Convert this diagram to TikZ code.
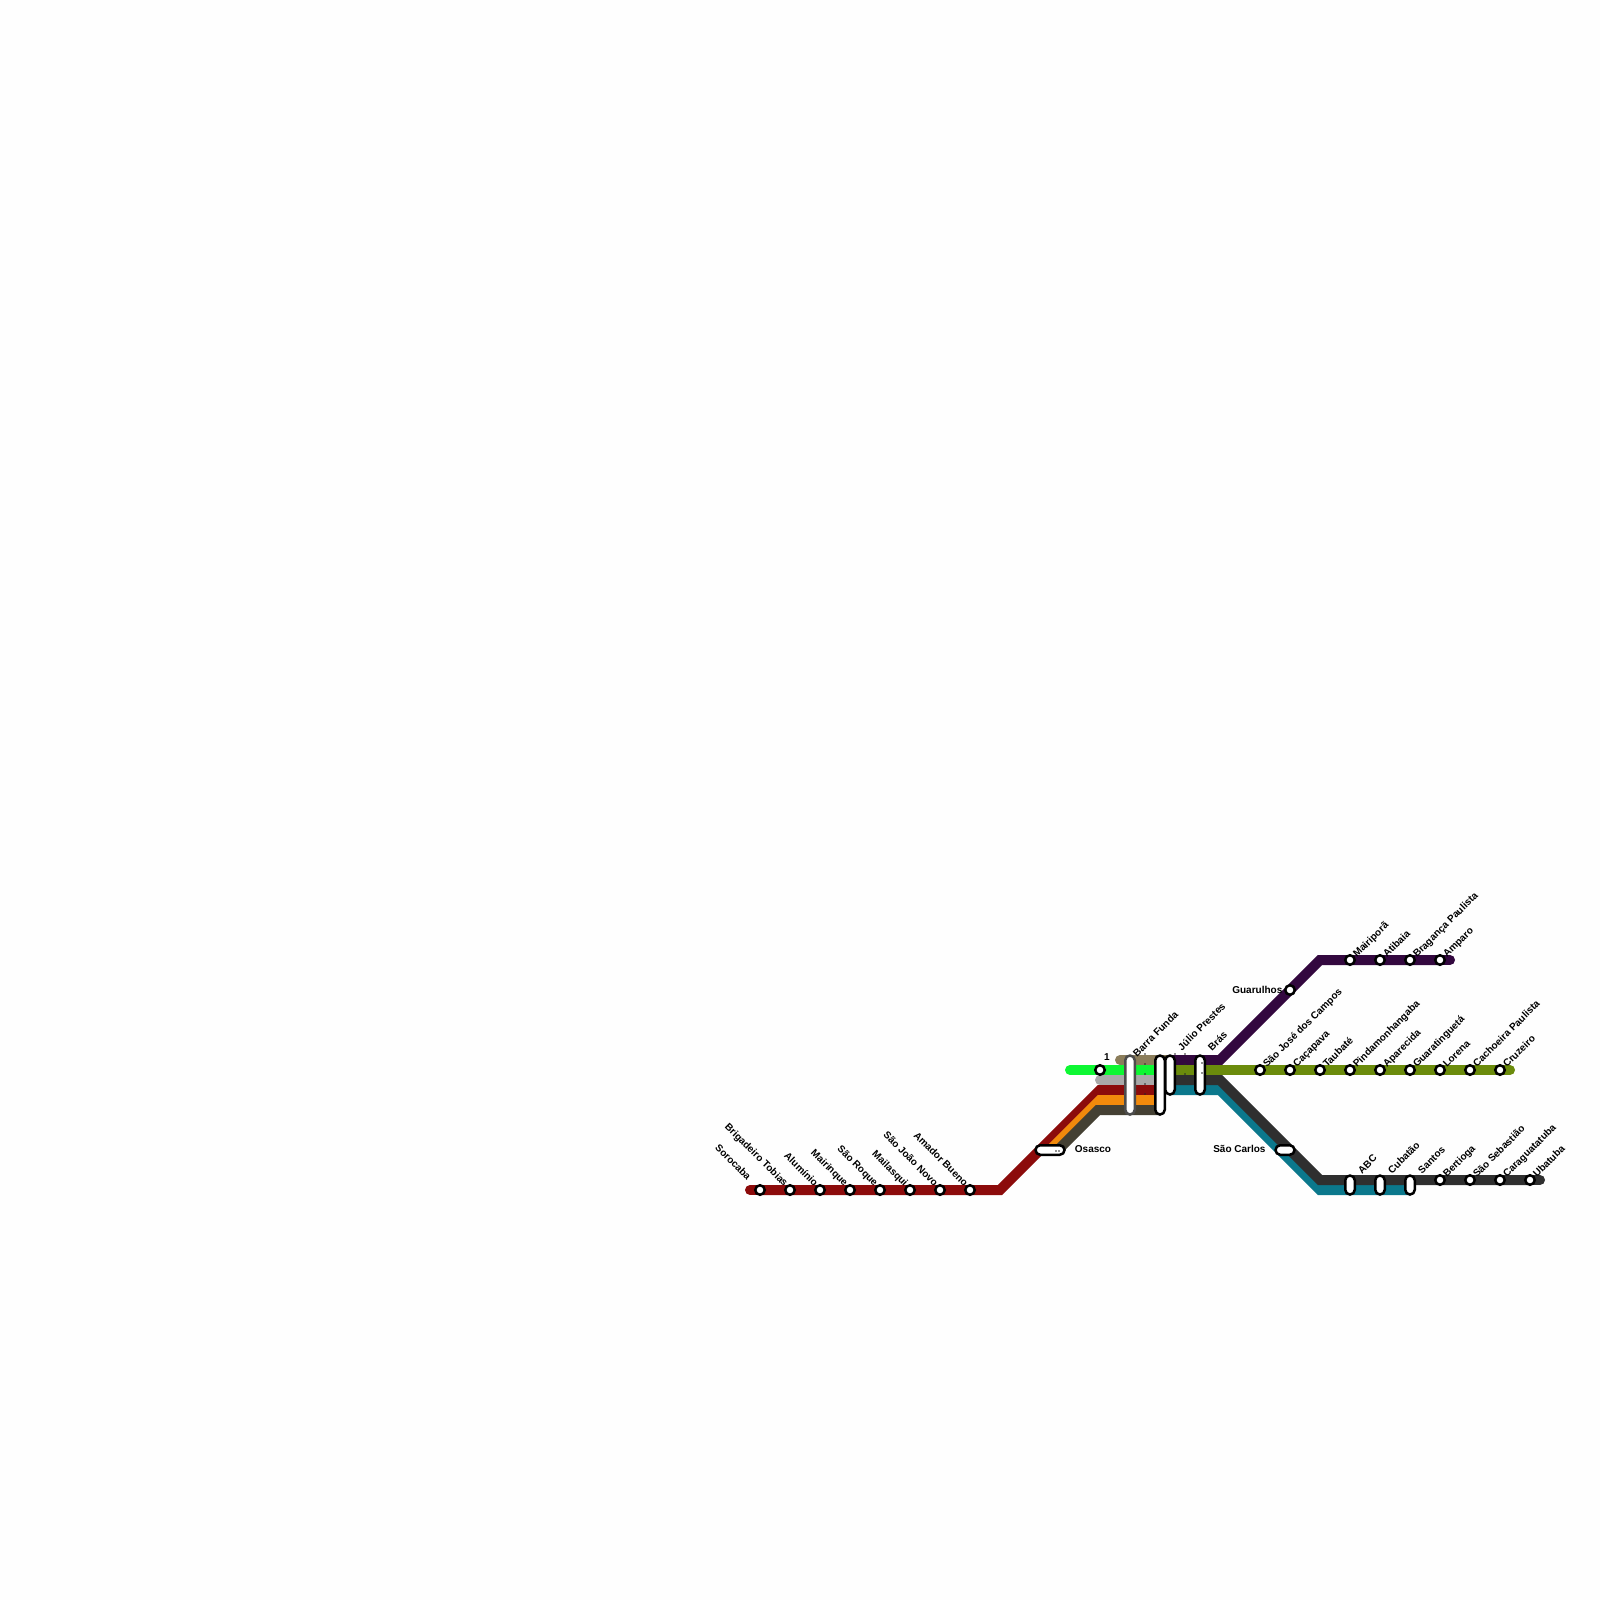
\documentclass[tikz,border=0pt]{standalone}
\usepackage{fontspec}
\setmainfont{Liberation Sans}
\usepackage{xcolor}
\usetikzlibrary{positioning}
\definecolor{lineRed}{HTML}{8C0B0B}
\definecolor{lineOrange}{HTML}{F28A0C}
\definecolor{lineUmber}{HTML}{444033}
\definecolor{lineGrey}{HTML}{A9A9A9}
\definecolor{lineGreen}{HTML}{0EF733}
\definecolor{lineTan}{HTML}{8B7D5B}
\definecolor{linePurple}{HTML}{33083F}
\definecolor{lineOlive}{HTML}{6B8B0C}
\definecolor{lineCoal}{HTML}{2F2F2F}
\definecolor{lineTeal}{HTML}{0B788C}
\begin{document}
\begin{tikzpicture}[
        x=1pt, y=-1pt,
        route/.style = {line width=10pt},
        roundend/.style = {route, line cap=round},
        station/.style = {circle, draw=black, fill=white, line width=2.5pt, minimum size=9.5pt, inner sep=0pt},
        hub/.style = {draw=black, fill=white, line width=2.5pt, rounded corners=4.7pt, inner sep=0pt},
        tag/.style = {font=\fontsize{10}{12}\selectfont\bfseries, inner sep=0pt},
        tagright/.style = {tag, anchor=base west, xshift=7pt, yshift=2pt, rotate=45},
        hubtag/.style = {tag, anchor=base west, xshift=12pt, yshift=0pt, rotate=45},
        tagleft/.style = {tag, anchor=base east, xshift=-6pt, yshift=3pt, rotate=-45},
        speck/.style = {black!85}
    ]
    \useasboundingbox (0,0) rectangle (1600,1600);
    \fill[white!99.5!black] (0,0) rectangle (1600,1600);

    \coordinate (redstart) at (750,1190);
    \coordinate (redbend) at (1000,1190);
    \coordinate (redtop) at (1100,1090);
    \coordinate (redend) at (1160,1090);
    \coordinate (orangestart) at (1050,1150);
    \coordinate (orangetop) at (1100,1100);
    \coordinate (orangeend) at (1160,1100);
    \coordinate (umberstart) at (1058,1150);
    \coordinate (umbertop) at (1098,1110);
    \coordinate (umberend) at (1160,1110);
    \coordinate (greystart) at (1100,1080);
    \coordinate (greyend) at (1160,1080);
    \coordinate (greenstart) at (1070,1070);
    \coordinate (greenend) at (1160,1070);
    \coordinate (tanstart) at (1120,1060);
    \coordinate (tanend) at (1170,1060);
    \coordinate (purplestart) at (1170,1060);
    \coordinate (purplebend) at (1220,1060);
    \coordinate (purpletop) at (1320,960);
    \coordinate (purpleend) at (1450,960);
    \coordinate (olivestart) at (1170,1070);
    \coordinate (oliveend) at (1510,1070);
    \coordinate (coalstart) at (1170,1080);
    \coordinate (coalbend) at (1220,1080);
    \coordinate (coalbottom) at (1320,1180);
    \coordinate (coalend) at (1540,1180);
    \coordinate (tealstart) at (1170,1090);
    \coordinate (tealbend) at (1220,1090);
    \coordinate (tealbottom) at (1320,1190);
    \coordinate (tealend) at (1410,1190);

    \draw[route, lineTeal] (tealstart) -- (tealbend) -- (tealbottom) -- (tealend);
    \draw[route, lineCoal] (coalstart) -- (coalbend) -- (coalbottom) -- (1530,1180);
    \draw[roundend, lineCoal] (1530,1180) -- (coalend);
    \draw[route, linePurple] (purplestart) -- (purplebend) -- (purpletop) -- (1440,960);
    \draw[roundend, linePurple] (1440,960) -- (purpleend);
    \draw[route, lineOlive] (olivestart) -- (1500,1070);
    \draw[roundend, lineOlive] (1500,1070) -- (oliveend);
    \draw[roundend, lineRed] (redstart) -- (760,1190);
    \draw[route, lineRed] (760,1190) -- (redbend) -- (redtop) -- (redend);
    \draw[route, lineOrange] (orangestart) -- (orangetop) -- (orangeend);
    \draw[route, lineUmber] (umberstart) -- (umbertop) -- (umberend);
    \draw[roundend, lineGrey] (greystart) -- (1110,1080);
    \draw[route, lineGrey] (1110,1080) -- (greyend);
    \draw[roundend, lineGreen] (greenstart) -- (1080,1070);
    \draw[route, lineGreen] (1080,1070) -- (greenend);
    \draw[roundend, lineTan] (tanstart) -- (1135,1060);
    \draw[route, lineTan] (1135,1060) -- (tanend);

    % stations
    \node[station] (sorocaba) at (760,1190) {};
    \node[station] (brigadeiro) at (790,1190) {};
    \node[station] (aluminio) at (820,1190) {};
    \node[station] (mairinque) at (850,1190) {};
    \node[station] (saoroque) at (880,1190) {};
    \node[station] (mailasqui) at (910,1190) {};
    \node[station] (saojoao) at (940,1190) {};
    \node[station] (amador) at (970,1190) {};
    \node[station] (one) at (1100,1070) {};
    \node[station] (guarulhos) at (1290,990) {};
    \node[station] (mairipora) at (1350,960) {};
    \node[station] (atibaia) at (1380,960) {};
    \node[station] (braganca) at (1410,960) {};
    \node[station] (amparo) at (1440,960) {};
    \node[station] (saojose) at (1260,1070) {};
    \node[station] (cacapava) at (1290,1070) {};
    \node[station] (taubate) at (1320,1070) {};
    \node[station] (pinda) at (1350,1070) {};
    \node[station] (aparecida) at (1380,1070) {};
    \node[station] (guara) at (1410,1070) {};
    \node[station] (lorena) at (1440,1070) {};
    \node[station] (cachoeira) at (1470,1070) {};
    \node[station] (cruzeiro) at (1500,1070) {};
    \node[station] (bertioga) at (1440,1180) {};
    \node[station] (saoseb) at (1470,1180) {};
    \node[station] (caragua) at (1500,1180) {};
    \node[station] (ubatuba) at (1530,1180) {};

    % interchanges
    \node[hub, minimum width=29pt, minimum height=9.5pt] (osasco) at (1050,1150) {};
    \node[hub, minimum width=19pt, minimum height=9.5pt] (saocarlos) at (1285,1150) {};
    \node[hub, draw=black!70, minimum width=9.5pt, minimum height=59pt] (barra) at (1130,1085) {};
    \node[hub, minimum width=9.5pt, minimum height=59pt] (julio) at (1160,1085) {};
    \node[hub, minimum width=9.5pt, minimum height=39pt] (juliotwo) at (1170,1075) {};
    \node[hub, minimum width=9.5pt, minimum height=39pt] (bras) at (1200,1075) {};
    \node[hub, minimum width=9.5pt, minimum height=19pt] (abc) at (1350,1185) {};
    \node[hub, minimum width=9.5pt, minimum height=19pt] (cubatao) at (1380,1185) {};
    \node[hub, minimum width=9.5pt, minimum height=19pt] (santos) at (1410,1185) {};

    % tiny marks on the bands and in the pills
    \foreach \ypos in {1054,1064,1074,1084,1094}
        \fill[speck] (1145,\ypos) circle (0.8);
    \foreach \ypos in {1054,1064,1074}
        \fill[speck] (1185,\ypos) circle (0.8);
    \fill[speck] (1175,1054) circle (0.8);
    \fill[speck] (1202,1063) circle (0.8);
    \fill[speck] (1202,1073) circle (0.8);
    \fill[speck] (1056,1151) circle (0.8);
    \fill[speck] (1059,1151) circle (0.8);

    % labels
    \node[xshift=-7pt, yshift=6pt, tagleft] (lblsorocaba) at (sorocaba) {Sorocaba};
    \node[tagleft] (lblbrigadeiro) at (brigadeiro) {Brigadeiro Tobias};
    \node[tagleft] (lblaluminio) at (aluminio) {Alumínio};
    \node[tagleft] (lblmairinque) at (mairinque) {Mairinque};
    \node[tagleft] (lblsaoroque) at (saoroque) {São Roque};
    \node[tagleft] (lblmailasqui) at (mailasqui) {Mailasqui};
    \node[tagleft] (lblsaojoao) at (saojoao) {São João Novo};
    \node[tagleft] (lblamador) at (amador) {Amador Bueno};
    \node[tag, right=9pt of osasco, yshift=1pt] (lblosasco) {Osasco};
    \node[tag] (lblone) at (1107,1057) {1};
    \node[xshift=-5pt, yshift=-3pt, hubtag] (lblbarra) at (barra.north) {Barra Funda};
    \node[yshift=3pt, hubtag] (lbljulio) at (juliotwo.north) {Júlio Prestes};
    \node[yshift=3pt, hubtag] (lblbras) at (bras.north) {Brás};
    \node[tag, left=1.5pt of guarulhos] (lblguarulhos) {Guarulhos};
    \node[tag, left=8.5pt of saocarlos, yshift=1pt] (lblsaocarlos) {São Carlos};
    \node[tagright] (lblmairipora) at (mairipora) {Mairiporã};
    \node[tagright] (lblatibaia) at (atibaia) {Atibaia};
    \node[tagright] (lblbraganca) at (braganca) {Bragança Paulista};
    \node[tagright] (lblamparo) at (amparo) {Amparo};
    \node[tagright] (lblsaojose) at (saojose) {São José dos Campos};
    \node[tagright] (lblcacapava) at (cacapava) {Caçapava};
    \node[tagright] (lbltaubate) at (taubate) {Taubaté};
    \node[tagright] (lblpinda) at (pinda) {Pindamonhangaba};
    \node[tagright] (lblaparecida) at (aparecida) {Aparecida};
    \node[tagright] (lblguara) at (guara) {Guaratinguetá};
    \node[tagright] (lbllorena) at (lorena) {Lorena};
    \node[tagright] (lblcachoeira) at (cachoeira) {Cachoeira Paulista};
    \node[tagright] (lblcruzeiro) at (cruzeiro) {Cruzeiro};
    \node[hubtag] (lblabc) at (abc.north) {ABC};
    \node[hubtag] (lblcubatao) at (cubatao.north) {Cubatão};
    \node[hubtag] (lblsantos) at (santos.north) {Santos};
    \node[tagright] (lblbertioga) at (bertioga) {Bertioga};
    \node[tagright] (lblsaoseb) at (saoseb) {São Sebastião};
    \node[tagright] (lblcaragua) at (caragua) {Caraguatatuba};
    \node[tagright] (lblubatuba) at (ubatuba) {Ubatuba};
\end{tikzpicture}
\end{document}
